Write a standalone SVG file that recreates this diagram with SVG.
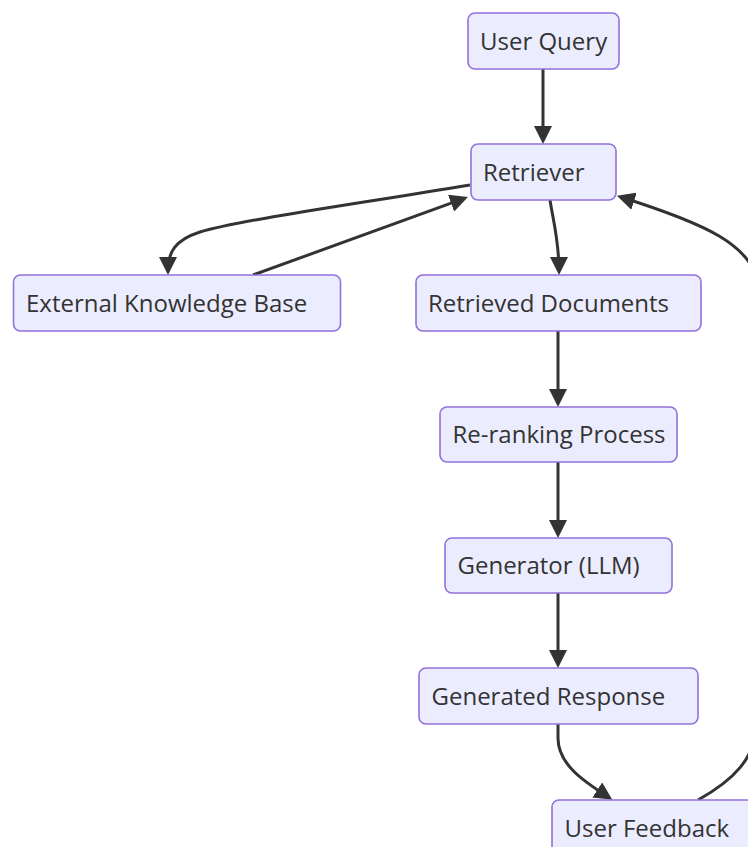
<svg xmlns="http://www.w3.org/2000/svg" width="748" height="847" viewBox="0 0 748 847">
<style>
.node rect{fill:#ECECFF;stroke:#9370DB;stroke-width:1.6}
.node text{font-family:"Open Sans","Noto Sans",sans-serif;font-size:24px;fill:#333}
.edges path{fill:none;stroke:#333;stroke-width:3}
</style>
<defs>
<marker id="arrow" markerUnits="userSpaceOnUse" viewBox="0 0 18 18" refX="14" refY="9" markerWidth="18" markerHeight="18" orient="auto">
<path d="M0,0 L18,9 L0,18 z" fill="#333"/>
</marker>
</defs>
<rect width="748" height="847" fill="#fff"/>
<g class="edges">
<path d="M543,69 L543,140" marker-end="url(#arrow)"/>
<path d="M470,185 C350,205 240,220 200,232 C175,240 168,252 168,271" marker-end="url(#arrow)"/>
<path d="M253,275 L464.2,198.4" marker-end="url(#arrow)"/>
<path d="M550,200 C553,220 559,240 559,271" marker-end="url(#arrow)"/>
<path d="M558,331 L558,403" marker-end="url(#arrow)"/>
<path d="M558,462 L558,534" marker-end="url(#arrow)"/>
<path d="M558,593 L558,664" marker-end="url(#arrow)"/>
<path d="M558,724 L558,738 C558,765 585,782 609,797.6" marker-end="url(#arrow)"/>
<path d="M698,800 C730,782 758,760 758,715 L758,290 C758,245 700,222 620.7,197" marker-end="url(#arrow)"/>
</g>
<g id="user-query" class="node"><rect x="468" y="13" width="151" height="56" rx="7"/><text x="480" y="49.5">User Query</text></g>
<g id="retriever" class="node"><rect x="471" y="144" width="145" height="56" rx="7"/><text x="483" y="180.5">Retriever</text></g>
<g id="external-kb" class="node"><rect x="13.5" y="275" width="327" height="56" rx="7"/><text x="26" y="311.5">External Knowledge Base</text></g>
<g id="retrieved-docs" class="node"><rect x="416" y="275" width="285" height="56" rx="7"/><text x="428" y="311.5">Retrieved Documents</text></g>
<g id="reranking" class="node"><rect x="440" y="407" width="237" height="55" rx="7"/><text x="452.5" y="443">Re-ranking Process</text></g>
<g id="generator" class="node"><rect x="445" y="538" width="227" height="55" rx="7"/><text x="457.5" y="574">Generator (LLM)</text></g>
<g id="generated-response" class="node"><rect x="419" y="668" width="279" height="56" rx="7"/><text x="431.5" y="704.5">Generated Response</text></g>
<g id="user-feedback" class="node"><rect x="552" y="800" width="208" height="56" rx="7"/><text x="564.5" y="836.5">User Feedback</text></g>
</svg>
